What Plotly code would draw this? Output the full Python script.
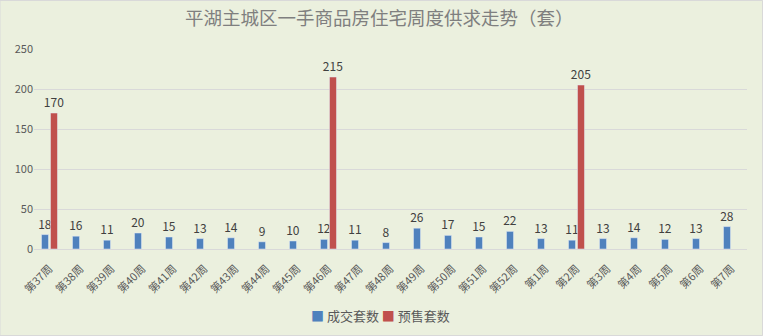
import plotly.graph_objects as go

weeks = ["第37周","第38周","第39周","第40周","第41周","第42周","第43周","第44周","第45周","第46周",
         "第47周","第48周","第49周","第50周","第51周","第52周","第1周","第2周","第3周","第4周",
         "第5周","第6周","第7周"]
deals = [18,16,11,20,15,13,14,9,10,12,11,8,26,17,15,22,13,11,13,14,12,13,28]
presale = [170,None,None,None,None,None,None,None,None,215,None,None,None,None,None,None,None,205,
           None,None,None,None,None]

font_cn = "Noto Sans CJK SC, Microsoft YaHei, sans-serif"
grey = "#595959"
blue = "#4F81BD"
red = "#C0504D"

fig = go.Figure()
fig.add_trace(go.Bar(x=weeks, y=deals, name="成交套数", marker_color=blue,
                     text=deals, textposition="outside", cliponaxis=False, constraintext="none",
                     textfont=dict(size=12, color="#404040", family=font_cn)))
fig.add_trace(go.Bar(x=weeks, y=presale, name="预售套数", marker_color=red,
                     text=[("" if v is None else v) for v in presale], textposition="outside",
                     cliponaxis=False, constraintext="none",
                     textfont=dict(size=12, color="#404040", family=font_cn)))

fig.update_layout(
    width=763, height=336,
    margin=dict(l=34, r=16, t=49, b=87),
    paper_bgcolor="#EBF0DE", plot_bgcolor="#EBF0DE",
    barmode="group", bargap=0.42, bargroupgap=0.22,
    font=dict(family=font_cn, color=grey, size=11),
    title=dict(text="平湖主城区一手商品房住宅周度供求走势（套）", x=0.497, xanchor="center",
               y=0.945, yanchor="middle",
               font=dict(size=18.5, color="#7F7F7F", family=font_cn)),
    showlegend=False,
    xaxis=dict(type="category", tickangle=-45, showgrid=False, showline=True,
               linecolor="#D9D9D9", linewidth=1, ticks="", ticklabelstandoff=8,
               automargin=False, tickfont=dict(size=11, color=grey)),
    yaxis=dict(range=[0, 250], tickvals=[0, 50, 100, 150, 200, 250], showgrid=True,
               gridcolor="#D9D9D9", gridwidth=1, zeroline=False, showline=False,
               automargin=False, ticks="", tickfont=dict(size=11, color=grey)),
)
fig.add_annotation(
    xref="paper", yref="paper", x=(380 - 34) / 713, y=-(315 - 249) / 200,
    xanchor="center", yanchor="middle", showarrow=False,
    text=(f"<span style='color:{blue}'>■</span> 成交套数 "
          f"<span style='color:{red}'>■</span> 预售套数"),
    font=dict(size=13, color=grey, family=font_cn))
fig.add_shape(type="rect", xref="paper", yref="paper",
              x0=-34/713, x1=1+15.5/713, y0=-86.5/200, y1=1+48.5/200,
              line=dict(color="#D9D9D9", width=1), fillcolor="rgba(0,0,0,0)", layer="below")
fig.write_html("out.html")
